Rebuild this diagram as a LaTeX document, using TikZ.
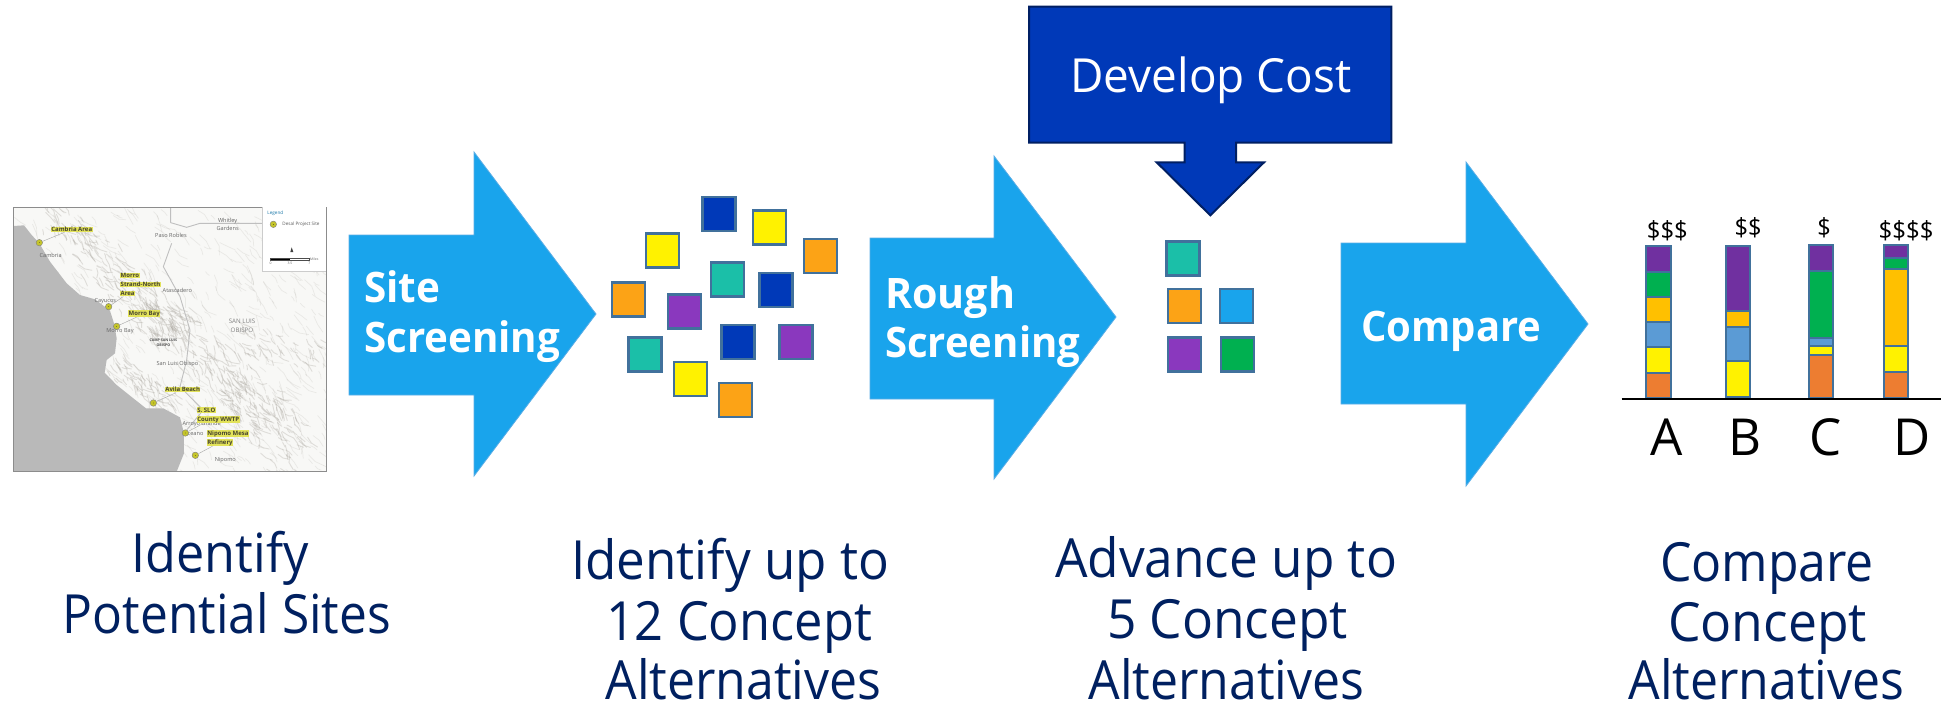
\documentclass[tikz,border=0pt]{standalone}
\usepackage{fontspec}
\setmainfont{Open Sans}
\definecolor{arrowblue}{HTML}{19A4EC}
\definecolor{arrowedge}{HTML}{5AADE6}
\definecolor{sqedge}{HTML}{41719C}
\definecolor{navyfill}{HTML}{0039B8}
\definecolor{navyedge}{HTML}{001F63}
\definecolor{sqorange}{HTML}{FCA316}
\definecolor{sqteal}{HTML}{1BBFA8}
\definecolor{sqpurple}{HTML}{8A38BE}
\definecolor{sqgreen}{HTML}{00B050}
\definecolor{barpurple}{HTML}{7030A0}
\definecolor{baramber}{HTML}{FFC000}
\definecolor{barblue}{HTML}{5B9BD5}
\definecolor{barorange}{HTML}{ED7D31}
\definecolor{caption}{HTML}{002060}
\definecolor{sea}{HTML}{B9B9B9}
\definecolor{land}{HTML}{F8F8F6}
\definecolor{ridge}{HTML}{A9A59D}
\definecolor{hilite}{HTML}{E2E25A}
\definecolor{marker}{HTML}{C4C42A}
\setlength{\fboxsep}{0.5pt}
\newcommand{\hl}[1]{\colorbox{hilite}{#1}}
\newcommand{\fitw}[2]{\resizebox{#1pt}{\height}{#2}}
\tikzset{
  sq/.style={draw=sqedge,line width=2.4pt,minimum width=33pt,minimum height=34pt,inner sep=0pt,outer sep=0pt},
  bigarrow/.style={fill=arrowblue,draw=arrowedge,line width=0.8pt},
  arrowtext/.style={text=white,font=\fontsize{42}{50}\selectfont\bfseries,inner sep=0pt,anchor=base west},
  captiontext/.style={text=caption,font=\fontsize{54}{60}\selectfont,inner sep=0pt,anchor=base},
  segment/.style={draw=sqedge,line width=2pt},
  barletter/.style={text=black,font=\fontsize{51}{55}\selectfont,inner sep=0pt,anchor=base},
  dollar/.style={text=black,font=\fontsize{25}{28}\selectfont,inner sep=0pt,anchor=base},
  maplabel/.style={text=black!65!olive,font=\fontsize{6}{9}\selectfont\bfseries,inner sep=0pt,align=left,anchor=west},
  mapplace/.style={text=black!60,font=\fontsize{5.6}{8}\selectfont,inner sep=0pt,align=center},
  mapmark/.style={circle,fill=marker,draw=black!50,line width=0.4pt,minimum size=6.5pt,inner sep=0pt},
  leader/.style={draw=black!35,line width=0.4pt},
  softridge/.style={draw=ridge,line width=0.7pt,opacity=0.18,line cap=round,line join=round},
  darkridge/.style={draw=ridge,line width=0.9pt,opacity=0.32,line cap=round,line join=round},
  roadline/.style={draw=black!25,line width=0.9pt,line join=round}
}
\begin{document}
\begin{tikzpicture}[x=1pt,y=-1pt]
\useasboundingbox (0,0) rectangle (1942,709);

% ---------- map (zoom coordinates, thirds of a pixel) ----------
\begin{scope}[shift={(0,190)},xscale=1/3,yscale=1/3]
  \begin{scope}
    \clip (40,52) rectangle (978,845);
    \fill[land] (40,52) rectangle (978,845);
    \pgfmathsetseed{4711}
    \foreach \i in {1,...,650}{
      \pgfmathsetmacro\px{40+938*rnd}
      \pgfmathsetmacro\py{52+793*rnd}
      \pgfmathsetmacro\ang{25+50*rnd}
      \pgfmathsetmacro\lena{8+22*rnd}
      \pgfmathsetmacro\angb{\ang+60*(rnd-0.5)}
      \draw[softridge] (\px,\py) -- ++(\ang:\lena) -- ++(\angb:\lena);
    }
    \foreach \xa/\ya/\xb/\yb/\spread/\num in {170/70/520/420/60/170, 450/350/880/720/55/190, 330/510/500/630/30/60, 640/520/860/840/40/70, 700/440/960/500/45/50}{
      \foreach \i in {1,...,\num}{
        \pgfmathsetmacro\tt{rnd}
        \pgfmathsetmacro\px{\xa+(\xb-\xa)*\tt+2*\spread*(rnd-0.5)}
        \pgfmathsetmacro\py{\ya+(\yb-\ya)*\tt+2*\spread*(rnd-0.5)}
        \pgfmathsetmacro\ang{20+60*rnd}
        \pgfmathsetmacro\lena{6+16*rnd}
        \pgfmathsetmacro\angb{\ang+70*(rnd-0.5)}
        \draw[darkridge] (\px,\py) -- ++(\ang:\lena) -- ++(\angb:\lena);
      }
    }
    \draw[roadline] (512,52) -- (512,98) -- (560,112) -- (600,100) -- (790,100);
    \draw[roadline] (515,160) -- (490,230) -- (540,320) -- (570,420) -- (560,510) -- (540,590) -- (610,660) -- (560,720);
    \fill[sea] (40,108) -- (72,106) -- (95,135) -- (118,160) -- (150,215) -- (200,280) -- (240,315) -- (285,328) -- (330,362) -- (342,400) -- (350,445) -- (345,490) -- (320,510) -- (314,548) -- (350,585) -- (400,625) -- (438,655) -- (490,655) -- (540,682) -- (552,730) -- (552,790) -- (530,845) -- (40,845) -- cycle;
  \end{scope}
  \draw[draw=black!45,line width=0.7pt] (40,52) rectangle (978,845);

  % legend
  \fill[white] (788,52) rectangle (978,245);
  \draw[draw=black!20,line width=0.5pt] (788,245) -- (978,245) (788,52) -- (788,245);
  \node[text=arrowblue!70!black,font=\fontsize{4.6}{6}\selectfont,inner sep=0pt] (legtitle) at (826,71) {Legend};
  \node[mapmark] (legmark) at (820,103) {};
  \fill[black] (820,103) circle (1pt);
  \node[text=black!65,font=\fontsize{4.6}{6}\selectfont,inner sep=0pt] (legtext) at (903,104) {Desal Project Site};
  \fill[black!75] (875,172) -- (880,186) -- (871,186) -- cycle;
  \fill[black] (812,204) rectangle (870,210);
  \fill[white] (870,204) rectangle (928,210);
  \draw[black!70,line width=0.4pt] (812,204) rectangle (928,210);
  \node[text=black!60,font=\fontsize{3.4}{5}\selectfont,inner sep=0pt] (scale0) at (812,221) {0};
  \node[text=black!60,font=\fontsize{3.4}{5}\selectfont,inner sep=0pt] (scale1) at (870,221) {3.5};
  \node[text=black!60,font=\fontsize{3.4}{5}\selectfont,inner sep=0pt] (scale2) at (928,221) {7};
  \node[text=black!60,font=\fontsize{3.4}{5}\selectfont,inner sep=0pt] (scale3) at (943,207) {Miles};

  % place names
  \node[mapplace] (p1) at (683,104) {Whitley\\Gardens};
  \node[mapplace] (p2) at (513,136) {Paso Robles};
  \node[mapplace] (p3) at (152,196) {Cambria};
  \node[mapplace] (p4) at (532,300) {Atascadero};
  \node[mapplace] (p5) at (316,332) {Cayucos};
  \node[mapplace] (p6) at (360,423) {Morro Bay};
  \node[mapplace,font=\fontsize{6.2}{9}\selectfont,text=black!50] (p7) at (726,406) {SAN LUIS\\OBISPO};
  \node[mapplace,font=\fontsize{3.6}{5}\selectfont\bfseries,text=black!70] (p8) at (490,459) {CAMP SAN LUIS\\OBISPO};
  \node[mapplace] (p9) at (532,522) {San Luis Obispo};
  \node[mapplace] (p10) at (605,702) {Arroyo Grande};
  \node[mapplace] (p11) at (580,730) {Oceano};
  \node[mapplace] (p12) at (676,809) {Nipomo};

  % sites
  \node[mapmark] (m1) at (118,158) {};
  \node[mapmark] (m2) at (326,350) {};
  \node[mapmark] (m3) at (350,409) {};
  \node[mapmark] (m4) at (460,639) {};
  \node[mapmark] (m5) at (556,729) {};
  \node[mapmark] (m6) at (586,796) {};
  \foreach \m in {m1,m2,m3,m4,m5,m6}{\fill[black] (\m) circle (0.9pt);}

  \node[maplabel] (l1) at (152,118) {\hl{Cambria Area}};
  \node[maplabel] (l2) at (360,284) {\hl{Morro}\\\hl{Strand-North}\\\hl{Area}};
  \node[maplabel] (l3) at (384,371) {\hl{Morro Bay}};
  \node[maplabel] (l4) at (494,599) {\hl{Avila Beach}};
  \node[maplabel] (l5) at (590,676) {\hl{S. SLO}\\\hl{County WWTP}};
  \node[maplabel] (l6) at (620,744) {\hl{Nipomo Mesa}\\\hl{Refinery}};
  \draw[leader] (m1) -- (l1);
  \draw[leader] (m2) -- (l2);
  \draw[leader] (m3) -- (l3);
  \draw[leader] (m4) -- (l4);
  \draw[leader] (m5) -- (l5);
  \draw[leader] (m6) -- (l6);
\end{scope}

% ---------- big arrows ----------
\draw[bigarrow] (349,235) -- (474,235) -- (474,152) -- (596,314) -- (474,476) -- (474,395) -- (349,395) -- cycle;
\draw[bigarrow] (870,238) -- (994,238) -- (994,156) -- (1116,317) -- (994,479) -- (994,399) -- (870,399) -- cycle;
\draw[bigarrow] (1341,243) -- (1466,243) -- (1466,162) -- (1588,324) -- (1466,486) -- (1466,404) -- (1341,404) -- cycle;
\node[arrowtext] (t1a) at (364,302) {\fitw{76}{Site}};
\node[arrowtext] (t1b) at (364,352) {\fitw{196}{Screening}};
\node[arrowtext] (t2a) at (885,308) {\fitw{130}{Rough}};
\node[arrowtext] (t2b) at (885,357) {\fitw{195}{Screening}};
\node[arrowtext] (t3) at (1361,341) {\fitw{180}{Compare}};

% ---------- twelve concept squares ----------
\begin{scope}[shift={(590,180)},xscale=1/3,yscale=1/3]
  \node[sq,fill=navyfill] (a1) at (387,102) {};
  \node[sq,fill=yellow] (a2) at (538,143) {};
  \node[sq,fill=sqorange] (a3) at (692,228) {};
  \node[sq,fill=yellow] (a4) at (217,211) {};
  \node[sq,fill=sqteal] (a5) at (412,298) {};
  \node[sq,fill=navyfill] (a6) at (558,330) {};
  \node[sq,fill=sqorange] (a7) at (116,358) {};
  \node[sq,fill=sqpurple] (a8) at (284,395) {};
  \node[sq,fill=navyfill] (a9) at (444,486) {};
  \node[sq,fill=sqpurple] (a10) at (618,486) {};
  \node[sq,fill=sqteal] (a11) at (165,524) {};
  \node[sq,fill=yellow] (a12) at (302,597) {};
  \node[sq,fill=sqorange] (a13) at (436,660) {};
\end{scope}

% ---------- develop cost callout ----------
\begin{scope}[shift={(1020,0)},xscale=1/3,yscale=1/3]
  \draw[fill=navyfill,draw=navyedge,line width=2pt,line join=miter] (27,20) -- (1114,20) -- (1114,428) -- (648,428) -- (648,487) -- (732,487) -- (571,646) -- (410,487) -- (494,487) -- (494,428) -- (27,428) -- cycle;
  \node[text=white,font=\fontsize{47}{55}\selectfont,inner sep=0pt,anchor=base] (dc) at (573,278) {\fitw{281}{Develop Cost}};
  \node[sq,fill=sqteal] (b1) at (489,776) {};
  \node[sq,fill=sqorange] (b2) at (494,918) {};
  \node[sq,fill=arrowblue] (b3) at (650,918) {};
  \node[sq,fill=sqpurple] (b4) at (494,1063) {};
  \node[sq,fill=sqgreen] (b5) at (653,1063) {};
\end{scope}

% ---------- cost bars ----------
\begin{scope}[shift={(1600,190)},xscale=1/3,yscale=1/3]
  % A
  \draw[segment,fill=barpurple] (139,167) rectangle (212,245);
  \draw[segment,fill=sqgreen] (139,245) rectangle (212,322);
  \draw[segment,fill=baramber] (139,322) rectangle (212,397);
  \draw[segment,fill=barblue] (139,397) rectangle (212,472);
  \draw[segment,fill=yellow] (139,472) rectangle (212,548);
  \draw[segment,fill=barorange] (139,548) rectangle (212,625);
  % B
  \draw[segment,fill=barpurple] (377,167) rectangle (449,362);
  \draw[segment,fill=baramber] (377,362) rectangle (449,410);
  \draw[segment,fill=barblue] (377,410) rectangle (449,512);
  \draw[segment,fill=yellow] (377,512) rectangle (449,622);
  % C
  \draw[segment,fill=barpurple] (627,164) rectangle (700,243);
  \draw[segment,fill=sqgreen] (627,243) rectangle (700,443);
  \draw[segment,fill=barblue] (627,443) rectangle (700,468);
  \draw[segment,fill=yellow] (627,468) rectangle (700,494);
  \draw[segment,fill=barorange] (627,494) rectangle (700,625);
  % D
  \draw[segment,fill=barpurple] (851,164) rectangle (924,204);
  \draw[segment,fill=sqgreen] (851,204) rectangle (924,238);
  \draw[segment,fill=baramber] (851,238) rectangle (924,468);
  \draw[segment,fill=yellow] (851,468) rectangle (924,546);
  \draw[segment,fill=barorange] (851,546) rectangle (924,625);
  \draw[black,line width=2.2pt] (65,627) -- (1022,627);
  \node[barletter] (la) at (201,795) {A};
  \node[barletter] (lb) at (435,795) {B};
  \node[barletter] (lc) at (678,795) {C};
  \node[barletter] (ld) at (936,795) {D};
  \node[dollar] (da) at (202,148) {\fitw{41}{\$\$\$}};
  \node[dollar] (db) at (444,138) {\fitw{27}{\$\$}};
  \node[dollar] (dc2) at (672,138) {\fitw{13.5}{\$}};
  \node[dollar] (dd) at (918,148) {\fitw{55}{\$\$\$\$}};
\end{scope}

% ---------- captions ----------
\node[captiontext] (c1a) at (220,572) {\fitw{177}{Identify}};
\node[captiontext] (c1b) at (227,633) {\fitw{328}{Potential Sites}};
\node[captiontext] (c2a) at (730,579) {\fitw{318}{Identify up to}};
\node[captiontext] (c2b) at (739,640) {\fitw{266}{12 Concept}};
\node[captiontext] (c2c) at (743.5,699) {\fitw{276}{Alternatives}};
\node[captiontext] (c3a) at (1226,577) {\fitw{342}{Advance up to}};
\node[captiontext] (c3b) at (1227.5,638) {\fitw{241}{5 Concept}};
\node[captiontext] (c3c) at (1226.5,699) {\fitw{276}{Alternatives}};
\node[captiontext] (c4a) at (1767,581) {\fitw{214}{Compare}};
\node[captiontext] (c4b) at (1767.5,641) {\fitw{199}{Concept}};
\node[captiontext] (c4c) at (1766.5,699) {\fitw{276}{Alternatives}};
\end{tikzpicture}
\end{document}
